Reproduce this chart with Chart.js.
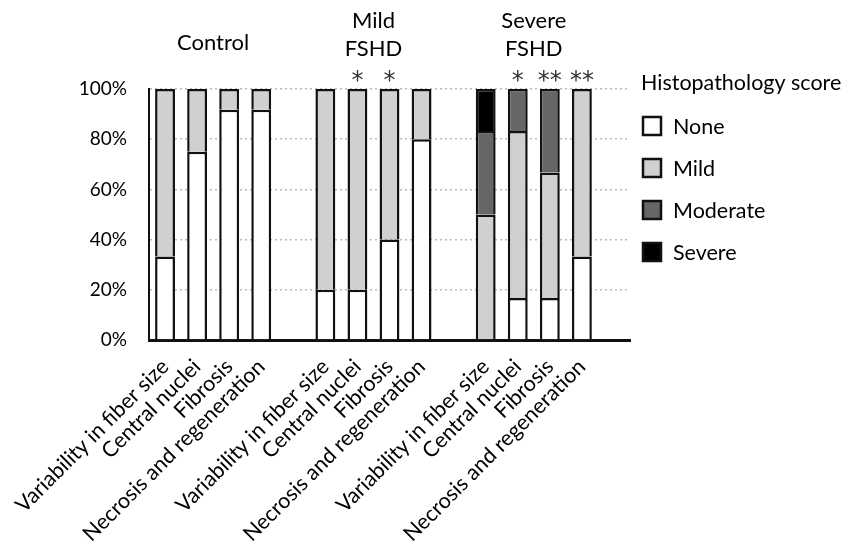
<!DOCTYPE html>
<html>
<head>
<meta charset="utf-8">
<script src="https://cdn.jsdelivr.net/npm/chart.js@4"></script>
<style>
  html, body { margin: 0; padding: 0; background: #fff; }
  #wrap { width: 856px; height: 546px; }
</style>
</head>
<body>
<div id="wrap"><canvas id="chart"></canvas></div>
<script>
// categories, with an empty slot after each group
const categories = [
    'Variability in fiber size', 'Central nuclei', 'Fibrosis', 'Necrosis and regeneration', '',
    'Variability in fiber size', 'Central nuclei', 'Fibrosis', 'Necrosis and regeneration', '',
    'Variability in fiber size', 'Central nuclei', 'Fibrosis', 'Necrosis and regeneration', ''
];

// percentages per score
const noneValues     = [33.3, 75, 91.7, 91.7, null, 20, 20, 40, 80, null, null, 16.7, 16.7, 33.3, null];
const mildValues     = [66.7, 25, 8.3, 8.3, null, 80, 80, 60, 20, null, 50, 66.6, 50, 66.7, null];
const moderateValues = [null, null, null, null, null, null, null, null, null, null, 33.3, 16.7, 33.3, null, null];
const severeValues   = [null, null, null, null, null, null, null, null, null, null, 16.7, null, null, null, null];

const significance = ['', '', '', '', '', '', '*', '*', '', '', '', '*', '**', '**', ''];

const groupTitles = [['Control'], ['Mild', 'FSHD'], ['Severe', 'FSHD']];
const groupCenters = [1.5, 6.5, 11.5];

const yTicks = [0, 20, 40, 60, 80, 100];
const legendTitle = 'Histopathology score';

const FONT = 'Lato';

// stars above bars
const starsPlugin = {
    id: 'stars',
    afterDatasetsDraw(chart) {
        const ctx = chart.ctx;
        const x = chart.scales.x;
        const y = chart.scales.y;
        ctx.save();
        ctx.font = '24px "DejaVu Sans"';
        ctx.fillStyle = '#333';
        ctx.textAlign = 'center';
        ctx.textBaseline = 'alphabetic';
        significance.forEach((s, i) => {
            if (!s) return;
            ctx.fillText(s, x.getPixelForValue(i), y.getPixelForValue(100) - 1);
        });
        ctx.restore();
    }
};

// group headings
const groupPlugin = {
    id: 'groups',
    afterDraw(chart) {
        const ctx = chart.ctx;
        const x = chart.scales.x;
        ctx.save();
        ctx.font = '22px ' + FONT;
        ctx.fillStyle = '#000';
        ctx.textAlign = 'center';
        ctx.textBaseline = 'middle';
        groupTitles.forEach((lines, g) => {
            const cx = (x.getPixelForValue(Math.floor(groupCenters[g])) + x.getPixelForValue(Math.ceil(groupCenters[g]))) / 2;
            if (lines.length === 1) {
                ctx.fillText(lines[0], cx, 43);
            } else {
                ctx.fillText(lines[0], cx, 21);
                ctx.fillText(lines[1], cx, 49);
            }
        });
        ctx.restore();
    }
};

// legend on the right
const legendPlugin = {
    id: 'scoreLegend',
    afterDraw(chart) {
        const ctx = chart.ctx;
        const x0 = chart.chartArea.right + 11;
        const top = chart.chartArea.top;
        ctx.save();
        ctx.font = '21.5px ' + FONT;
        ctx.textAlign = 'left';
        ctx.textBaseline = 'middle';
        ctx.fillStyle = '#000';
        ctx.fillText(legendTitle, x0, top - 6);
        chart.data.datasets.forEach((ds, i) => {
            const cy = top + 37 + i * 42;
            ctx.fillStyle = ds.backgroundColor;
            ctx.fillRect(x0 + 2, cy - 9, 18, 18);
            ctx.strokeStyle = ds.borderColor;
            ctx.lineWidth = 2.5;
            ctx.strokeRect(x0 + 2, cy - 9, 18, 18);
            ctx.fillStyle = '#000';
            ctx.fillText(ds.label, x0 + 32, cy + 1);
        });
        ctx.restore();
    }
};

const barStyle = {
    borderColor: '#111',
    borderWidth: 2.5,
    barPercentage: 0.62,
    categoryPercentage: 1
};

new Chart(document.getElementById('chart'), {
    type: 'bar',
    data: {
        labels: categories,
        datasets: [
            { label: 'None', data: noneValues, backgroundColor: '#ffffff', ...barStyle },
            { label: 'Mild', data: mildValues, backgroundColor: '#d0d0d0', ...barStyle },
            { label: 'Moderate', data: moderateValues, backgroundColor: '#666666', ...barStyle },
            { label: 'Severe', data: severeValues, backgroundColor: '#000000', ...barStyle }
        ]
    },
    options: {
        responsive: true,
        maintainAspectRatio: false,
        animation: false,
        layout: { padding: { top: 89, right: 226, left: 0, bottom: 0 } },
        plugins: {
            legend: { display: false },
            tooltip: { enabled: false }
        },
        scales: {
            x: {
                stacked: true,
                grid: { display: false },
                border: { display: true, color: '#111', width: 3 },
                ticks: {
                    autoSkip: false,
                    maxRotation: 45,
                    minRotation: 45,
                    padding: 6,
                    color: '#000',
                    font: { family: FONT, size: 21.5 }
                },
                afterFit(scale) { scale.height = 206; }
            },
            y: {
                stacked: true,
                min: 0,
                max: 100,
                afterBuildTicks(scale) { scale.ticks = yTicks.map(v => ({ value: v })); },
                grid: { color: '#bbb', lineWidth: 1.5, drawTicks: false },
                border: { display: true, color: '#111', width: 2, dash: [2, 3] },
                ticks: {
                    padding: 22,
                    color: '#000',
                    font: { family: FONT, size: 19 },
                    callback: v => v + '%'
                },
                afterFit(scale) { scale.width = 149; }
            }
        }
    },
    plugins: [starsPlugin, groupPlugin, legendPlugin]
});
</script>
</body>
</html>
